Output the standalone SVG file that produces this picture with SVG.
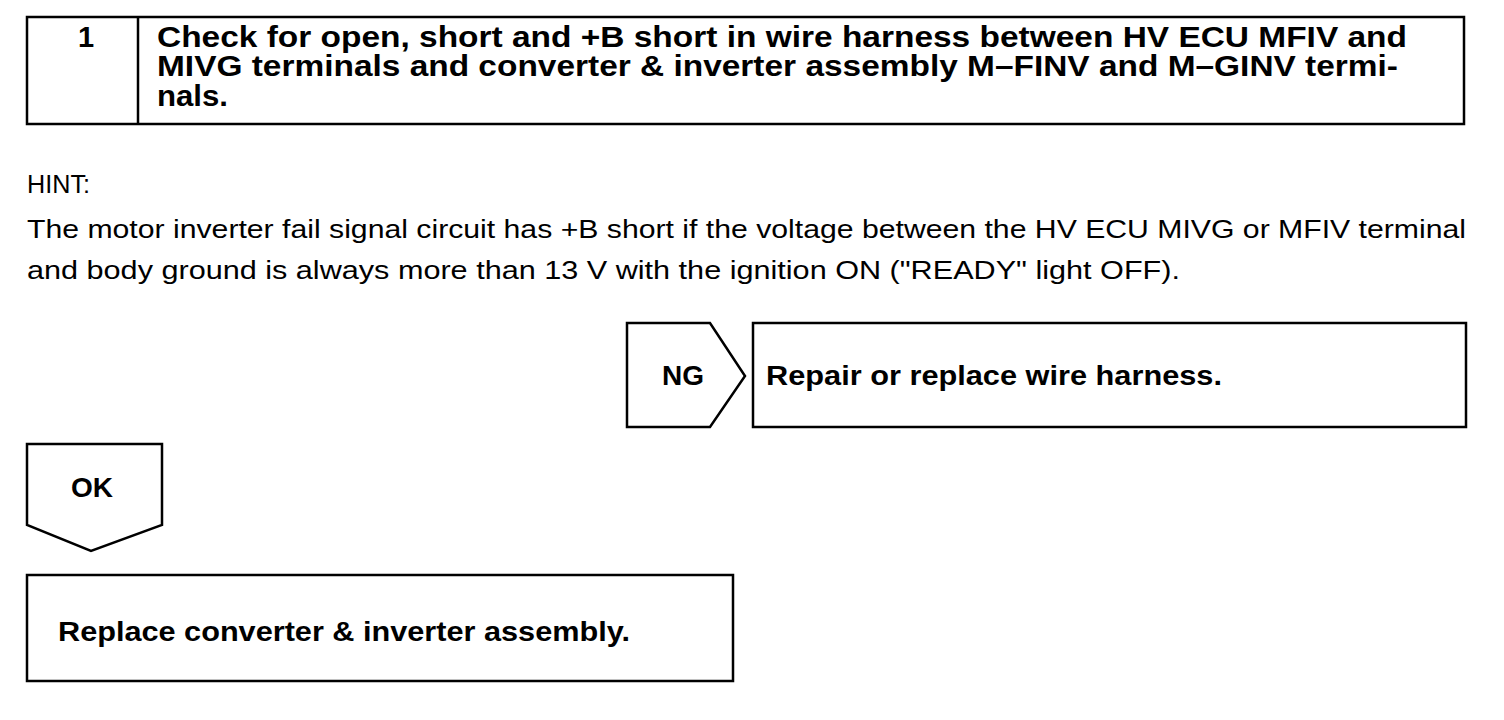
<svg xmlns="http://www.w3.org/2000/svg" width="1504" height="720" viewBox="0 0 1504 720">
<style>
.box{fill:#fff;stroke:#000;stroke-width:2.5}
.b{font-family:"Liberation Sans",Arial,sans-serif;font-weight:bold;fill:#000}
.r{font-family:"Liberation Sans",Arial,sans-serif;fill:#000;font-size:25px}
</style>
<rect width="1504" height="720" fill="#fff"/>
<g id="step1">
<rect class="box" x="27" y="17" width="1437" height="107"/>
<line x1="138" y1="17" x2="138" y2="124" stroke="#000" stroke-width="2.5"/>
<text class="b" x="86" y="47" font-size="29" text-anchor="middle">1</text>
<text class="b" x="157" y="47" font-size="29" textLength="1250" lengthAdjust="spacingAndGlyphs">Check for open, short and +B short in wire harness between HV ECU MFIV and</text>
<text class="b" x="157" y="76" font-size="29" textLength="1241" lengthAdjust="spacingAndGlyphs">MIVG terminals and converter &amp; inverter assembly M–FINV and M–GINV termi-</text>
<text class="b" x="157" y="106" font-size="29" textLength="71" lengthAdjust="spacingAndGlyphs">nals.</text>
</g>
<g id="hint">
<text class="r" x="27" y="193" textLength="63" lengthAdjust="spacingAndGlyphs">HINT:</text>
<text class="r" x="27" y="238" textLength="1439" lengthAdjust="spacingAndGlyphs">The motor inverter fail signal circuit has +B short if the voltage between the HV ECU MIVG or MFIV terminal</text>
<text class="r" x="27" y="279" textLength="1153" lengthAdjust="spacingAndGlyphs">and body ground is always more than 13 V with the ignition ON ("READY" light OFF).</text>
</g>
<g id="ng">
<polygon class="box" points="627,323 710,323 745,376 710,427 627,427"/>
<text class="b" x="683" y="385" font-size="28" text-anchor="middle">NG</text>
</g>
<g id="repair">
<rect class="box" x="753" y="323" width="713" height="104"/>
<text class="b" x="766" y="385" font-size="27" textLength="456" lengthAdjust="spacingAndGlyphs">Repair or replace wire harness.</text>
</g>
<g id="ok">
<polygon class="box" points="27,444 162,444 162,525 91,551 27,525"/>
<text class="b" x="92" y="497" font-size="28" text-anchor="middle">OK</text>
</g>
<g id="replace">
<rect class="box" x="27" y="575" width="706" height="106"/>
<text class="b" x="58" y="641" font-size="27" textLength="572" lengthAdjust="spacingAndGlyphs">Replace converter &amp; inverter assembly.</text>
</g>
<g id="connectors"></g>
</svg>
